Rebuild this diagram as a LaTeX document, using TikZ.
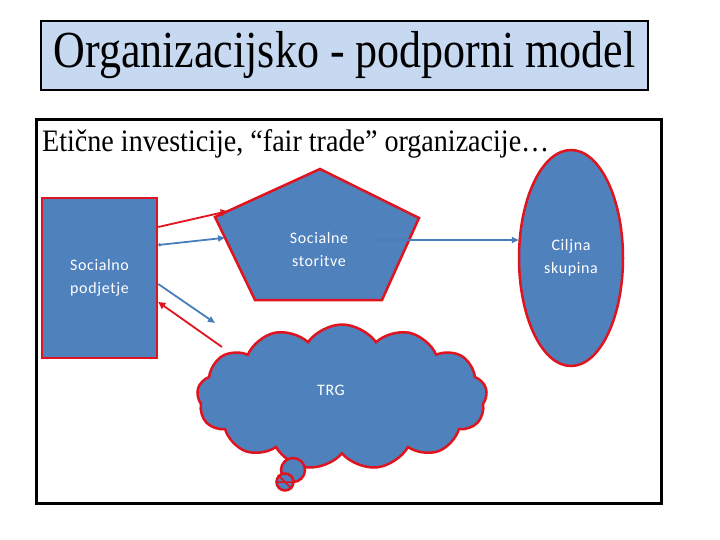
\documentclass[tikz,border=0pt]{standalone}
\usepackage{fontspec}
\setmainfont{Liberation Serif}
\newfontfamily\calib[LetterSpace=4]{Carlito}
\usetikzlibrary{shapes.symbols,shapes.geometric,arrows.meta,calc}
\definecolor{shapeblue}{HTML}{4F81BD}
\definecolor{edgered}{HTML}{E0141E}
\definecolor{arrowblue}{HTML}{4A7EBB}
\definecolor{titlefill}{HTML}{C6D9F1}
\begin{document}
\begin{tikzpicture}[x=1pt,y=-1pt,
  shapestyle/.style={fill=shapeblue, draw=edgered, line width=2.5pt},
  whitetext/.style={text=white, font=\calib\fontsize{16}{23}\selectfont, align=center},
  redarrow/.style={draw=edgered, line width=1.8pt, -{Triangle[length=7pt,width=7pt]}},
  bluearrow/.style={draw=arrowblue, line width=1.8pt, -{Triangle[length=7pt,width=6pt]}},
]
\useasboundingbox (0,0) rectangle (720,540);
\node[draw=black, line width=2.5pt, fill=titlefill, minimum width=607, minimum height=69, inner sep=0] (title) at (344.5,55.5) {\scalebox{1.1}[1.3]{\fontsize{40}{48}\selectfont Organizacijsko - podporni model}};
\node[draw=black, line width=3pt, fill=white, minimum width=625, minimum height=383, inner sep=0] (frame) at (348.5,311.5) {};
\node[anchor=base west, inner sep=0] (sub) at (42,152) {\scalebox{1.17}[1.3]{\fontsize{24}{28}\selectfont Etične investicije, “fair trade” organizacije…}};
% rectangle
\node[shapestyle, whitetext, minimum width=115, minimum height=160, inner sep=0] (sp) at (99.5,278) {Socialno\\podjetje};
% pentagon
\coordinate (p1) at (320,169);
\coordinate (p2) at (419,218);
\coordinate (p3) at (382,300);
\coordinate (p4) at (255,300);
\coordinate (p5) at (215,217);
\draw[shapestyle] (p1)--(p2)--(p3)--(p4)--(p5)--cycle;
\node[whitetext] (ss) at (319,250) {Socialne\\storitve};
% ellipse
\node[shapestyle, whitetext, ellipse, minimum width=104, minimum height=216, inner sep=0] (cs) at (571,258) {Ciljna\\skupina};
% cloud
\node[shapestyle, cloud, cloud puffs=13, cloud puff arc=110, aspect=2, minimum width=290, minimum height=145, inner sep=0] (trg) at (342,397) {};
\node[whitetext] (trgt) at (331,390) {TRG};
\node[shapestyle, circle, minimum size=24, inner sep=0] (tail1) at (293,470) {};
\node[shapestyle, circle, minimum size=17, inner sep=0] (tail2) at (285,482) {};
\draw[edgered, line width=1.5pt] (tail2.west) -- (tail2.east) (tail2.north west) -- (tail2.south east);
% connectors
\coordinate (cloudpt) at (222,347);
\coordinate (freeend) at (215,323);
\coordinate (ssstart) at (377,240);
\draw[redarrow] ([yshift=51]sp.east) -- ($(p5)!0.12!(p1)$);
\draw[bluearrow, {Circle[length=3pt]}-{Triangle[length=7pt,width=6pt]}] ([yshift=33]sp.east) -- ($(p5)!0.25!(p4)$);
\draw[bluearrow] ([yshift=-6]sp.east) -- (freeend);
\draw[redarrow] (cloudpt) -- ([yshift=-24]sp.east);
\draw[bluearrow, {Circle[length=3pt]}-{Triangle[length=7pt,width=6pt]}] (ssstart) -- ([yshift=18,xshift=1]cs.west);
\end{tikzpicture}
\end{document}
